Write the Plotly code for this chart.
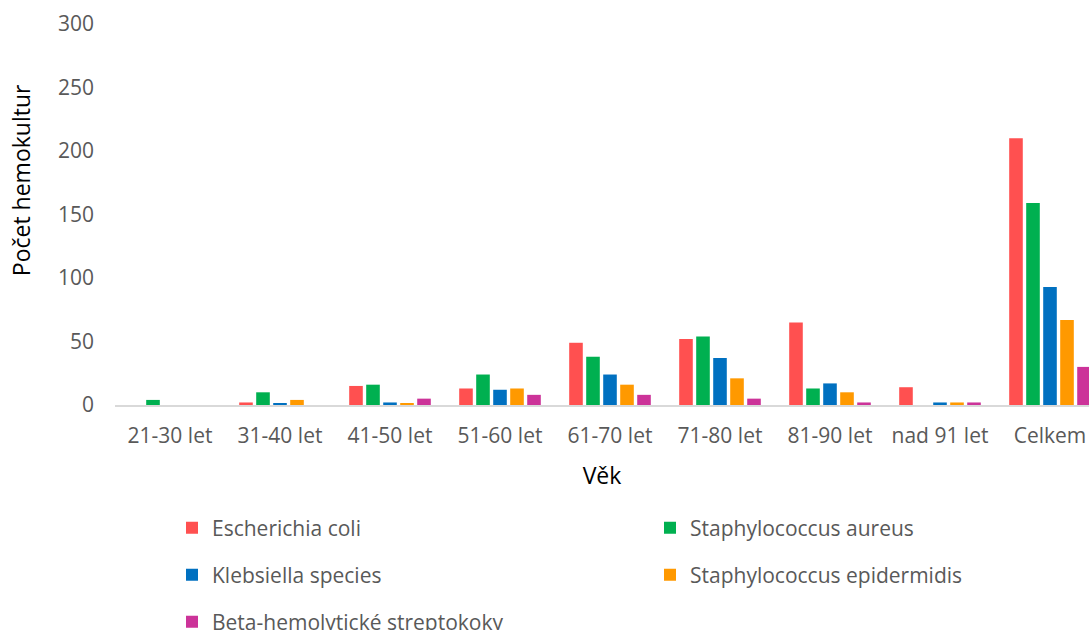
import plotly.graph_objects as go

# Age groups on the category axis
categories = ["21-30 let", "31-40 let", "41-50 let", "51-60 let", "61-70 let",
              "71-80 let", "81-90 let", "nad 91 let", "Celkem"]

# Number of positive blood cultures per organism
escherichia_coli = [0, 2, 15, 13, 49, 52, 65, 14, 210]
staph_aureus = [4, 10, 16, 24, 38, 54, 13, 0, 159]
klebsiella = [0, 1, 2, 12, 24, 37, 17, 2, 93]
staph_epidermidis = [0, 4, 1, 13, 16, 21, 10, 2, 67]
beta_strep = [0, 0, 5, 8, 8, 5, 2, 2, 30]

series = [
    ("Escherichia coli", escherichia_coli, "#FF5050", "legend"),
    ("Staphylococcus aureus", staph_aureus, "#00B050", "legend"),
    ("Klebsiella species", klebsiella, "#0070C0", "legend2"),
    ("Staphylococcus epidermidis", staph_epidermidis, "#FF9900", "legend2"),
    ("Beta-hemolytické streptokoky", beta_strep, "#CC3399", "legend3"),
]

FONT = "Open Sans, Calibri, sans-serif"
GREY = "#595959"

fig = go.Figure()
for name, values, color, leg in series:
    fig.add_trace(go.Bar(
        x=categories, y=values, name=name, legend=leg,
        marker=dict(color=color, line=dict(width=0)),
    ))

W, H = 1089, 630
left = 115
plot_w = W - left
slot = 110.0
x_max = plot_w / slot - 0.5

legend_common = dict(
    orientation="h", xref="container", yref="container",
    xanchor="left", yanchor="middle",
    font=dict(family=FONT, size=21, color=GREY),
    entrywidth=433, entrywidthmode="pixels",
    bgcolor="rgba(0,0,0,0)", itemclick=False, itemdoubleclick=False,
)
lx = 172 / W

fig.update_layout(
    width=W, height=H,
    margin=dict(l=left, r=0, t=24, b=225, pad=0),
    paper_bgcolor="white", plot_bgcolor="white",
    barmode="group", bargap=0.227, bargroupgap=0.2,
    font=dict(family=FONT, color=GREY),
    xaxis=dict(
        range=[-0.5, x_max], showgrid=False, zeroline=False,
        showline=True, linecolor="#D9D9D9", linewidth=1.5,
        ticks="", tickfont=dict(family=FONT, size=21, color=GREY),
        ticklabelstandoff=11,
        title=dict(text="Věk", font=dict(family=FONT, size=23, color="#000000"), standoff=20),
    ),
    yaxis=dict(
        range=[0, 300], dtick=50, showgrid=False, zeroline=False, showline=False,
        ticks="", tickfont=dict(family=FONT, size=21, color=GREY),
        ticklabelstandoff=20,
    ),
    legend=dict(legend_common, x=lx, y=1 - 528 / H),
    legend2=dict(legend_common, x=lx, y=1 - 575 / H),
    legend3=dict(legend_common, x=lx, y=1 - 622 / H),
    annotations=[dict(
        text="Počet hemokultur", textangle=-90,
        xref="paper", yref="paper", x=-(left - 21) / plot_w, y=0.59,
        xanchor="center", yanchor="middle", showarrow=False,
        font=dict(family=FONT, size=23, color="#000000"),
    )],
)

fig.write_html("out.html")
